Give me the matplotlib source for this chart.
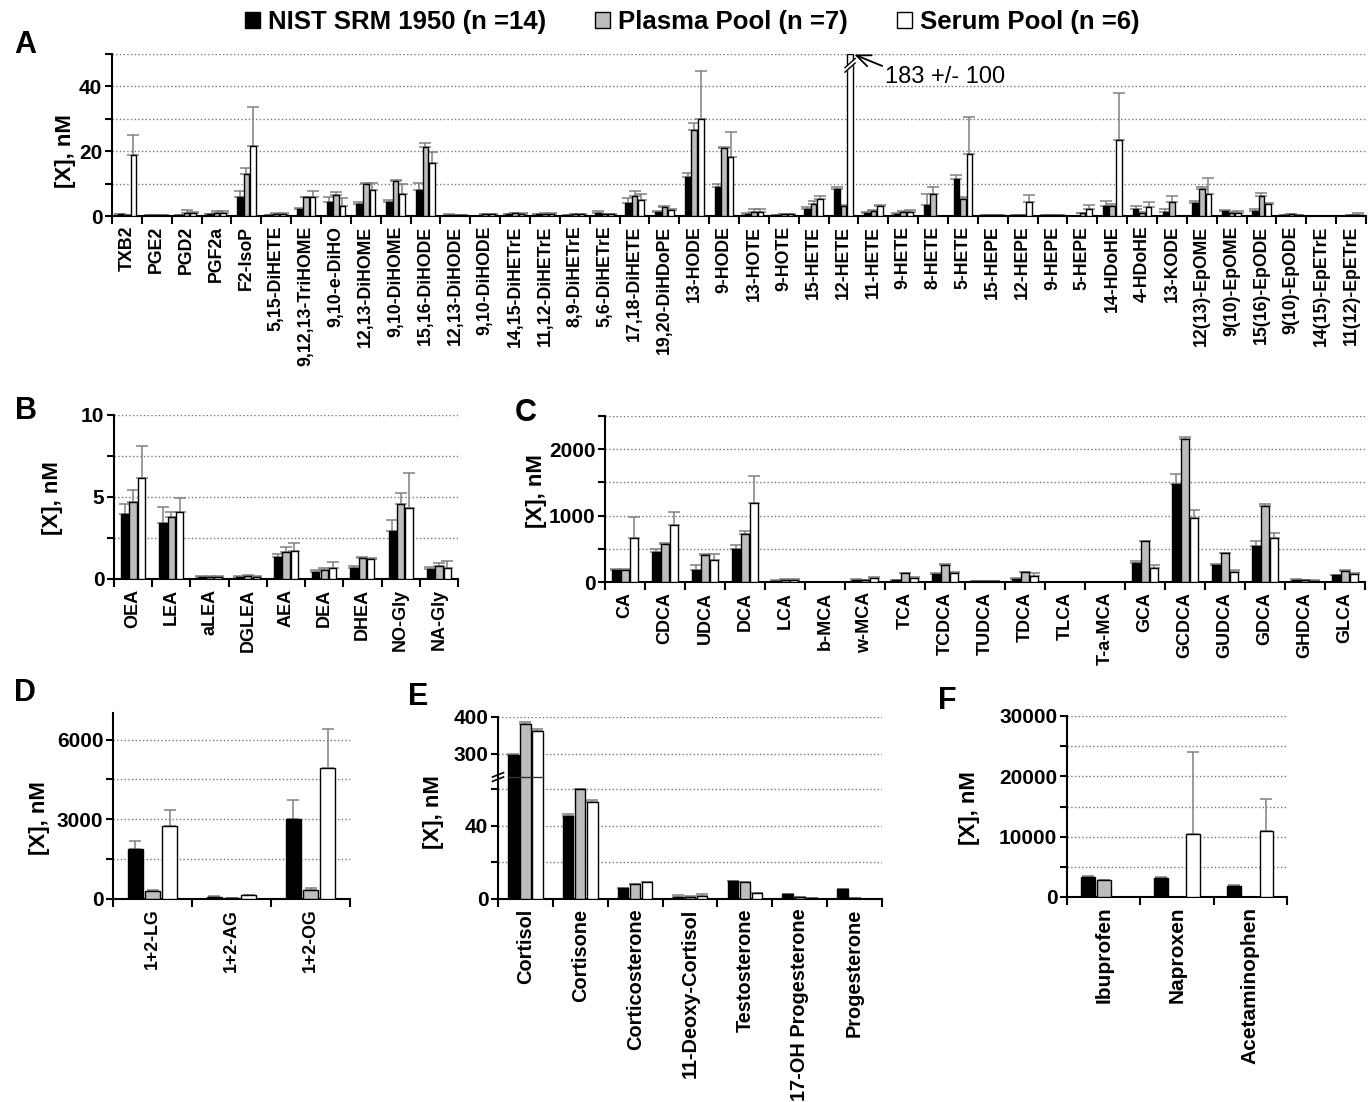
#!/usr/bin/env python3

import numpy as np
import matplotlib
matplotlib.use('Agg')
from matplotlib import pyplot as plt
from matplotlib.patches import Patch

W, H = 1368, 1102

series_labels = ['NIST SRM 1950 (n =14)', 'Plasma Pool (n =7)', 'Serum Pool (n =6)']
series_colors = ['#000000', '#bdbdbd', '#ffffff']

# A: oxylipins
a_names = ['TXB2', 'PGE2', 'PGD2', 'PGF2a', 'F2-IsoP', '5,15-DiHETE', '9,12,13-TriHOME',
           '9,10-e-DiHO', '12,13-DiHOME', '9,10-DiHOME', '15,16-DiHODE', '12,13-DiHODE',
           '9,10-DiHODE', '14,15-DiHETrE', '11,12-DiHETrE', '8,9-DiHETrE', '5,6-DiHETrE',
           '17,18-DiHETE', '19,20-DiHDoPE', '13-HODE', '9-HODE', '13-HOTE', '9-HOTE',
           '15-HETE', '12-HETE', '11-HETE', '9-HETE', '8-HETE', '5-HETE', '15-HEPE',
           '12-HEPE', '9-HEPE', '5-HEPE', '14-HDoHE', '4-HDoHE', '13-KODE', '12(13)-EpOME',
           '9(10)-EpOME', '15(16)-EpODE', '9(10)-EpODE', '14(15)-EpETrE', '11(12)-EpETrE']
a_nist = [0.5, 0.2, 0.3, 0.5, 5.8, 0.2, 2.3, 4.4, 3.8, 4.3, 7.9, 0.4, 0.1, 0.6, 0.6, 0.3, 1.0,
          4.0, 1.2, 12.1, 8.9, 0.6, 0.2, 2.3, 8.2, 1.0, 0.6, 3.5, 11.3, 0.2, 0.3, 0.2, 0.0,
          3.1, 2.3, 1.1, 3.9, 1.4, 1.4, 0.2, 0.1, 0.0]
a_nist_sd = [0.2, 0.0, 0.1, 0.2, 2.0, 0.1, 0.3, 1.5, 0.4, 0.6, 2.4, 0.1, 0.0, 0.1, 0.1, 0.1, 0.5,
             1.6, 0.3, 1.2, 0.9, 0.2, 0.1, 0.5, 0.8, 0.3, 0.2, 3.2, 1.5, 0.0, 0.1, 0.0, 0.0,
             1.5, 0.8, 1.1, 0.7, 0.4, 0.7, 0.1, 0.0, 0.0]
a_plasma = [0.3, 0.2, 1.0, 1.0, 13.0, 0.5, 5.8, 6.6, 9.8, 10.8, 21.4, 0.3, 0.6, 0.8, 0.7, 0.5,
            0.6, 6.1, 2.8, 26.4, 20.9, 1.3, 0.6, 3.6, 3.2, 1.6, 1.2, 6.9, 5.3, 0.2, 0.2, 0.2,
            0.8, 3.0, 0.9, 4.3, 8.2, 0.8, 6.3, 0.5, 0.1, 0.2]
a_plasma_sd = [0.1, 0.0, 0.8, 0.5, 1.8, 0.3, 0.1, 0.8, 0.5, 0.2, 1.1, 0.1, 0.1, 0.2, 0.1, 0.1,
               0.1, 1.7, 0.2, 2.2, 0.4, 0.9, 0.1, 0.9, 0.2, 0.3, 0.3, 2.1, 0.6, 0.0, 0.1, 0.0,
               0.2, 0.7, 0.2, 1.8, 0.8, 0.3, 0.8, 0.1, 0.0, 0.1]
a_serum = [18.7, 0.2, 0.8, 1.0, 21.7, 0.5, 5.8, 3.0, 8.0, 6.9, 16.5, 0.2, 0.5, 0.7, 0.7, 0.6,
           0.6, 4.8, 1.8, 30.0, 18.1, 1.3, 0.6, 5.1, 183, 3.0, 1.1, 0.0, 19.2, 0.2, 4.3, 0.2,
           2.1, 23.6, 2.7, 0.0, 6.7, 0.8, 3.7, 0.3, 0.1, 0.4]
a_serum_sd = [6.3, 0.1, 0.5, 0.5, 11.8, 0.3, 2.0, 2.5, 2.3, 3.1, 3.3, 0.1, 0.1, 0.2, 0.1, 0.1,
              0.1, 1.9, 0.3, 14.9, 7.7, 0.9, 0.1, 1.2, 100, 0.5, 0.6, 0.0, 11.4, 0.0, 2.3, 0.0,
              1.3, 14.4, 1.6, 0.0, 4.9, 0.8, 0.2, 0.1, 0.0, 0.4]

# B: endocannabinoids
b_names = ['OEA', 'LEA', 'aLEA', 'DGLEA', 'AEA', 'DEA', 'DHEA', 'NO-Gly', 'NA-Gly']
b_nist = [3.94, 3.4, 0.1, 0.12, 1.36, 0.4, 0.65, 2.95, 0.6]
b_nist_sd = [0.66, 1.0, 0.1, 0.08, 0.19, 0.15, 0.15, 0.65, 0.15]
b_plasma = [4.67, 3.76, 0.15, 0.2, 1.67, 0.55, 1.3, 4.55, 0.8]
b_plasma_sd = [0.73, 0.34, 0.05, 0.05, 0.3, 0.15, 0.05, 0.71, 0.15]
b_serum = [6.15, 4.07, 0.15, 0.15, 1.73, 0.65, 1.25, 4.35, 0.7]
b_serum_sd = [1.95, 0.89, 0.05, 0.05, 0.44, 0.4, 0.05, 2.09, 0.4]

# C: bile acids
c_names = ['CA', 'CDCA', 'UDCA', 'DCA', 'LCA', 'b-MCA', 'w-MCA', 'TCA', 'TCDCA', 'TUDCA',
           'TDCA', 'TLCA', 'T-a-MCA', 'GCA', 'GCDCA', 'GUDCA', 'GDCA', 'GHDCA', 'GLCA']
c_nist = [180, 455, 180, 490, 20, 0, 35, 25, 125, 10, 50, 5, 5, 285, 1480, 255, 535, 35, 100]
c_nist_sd = [20, 45, 75, 70, 5, 0, 5, 5, 5, 2, 5, 1, 1, 25, 150, 20, 75, 5, 10]
c_plasma = [185, 575, 400, 730, 35, 0, 30, 130, 260, 12, 150, 5, 5, 610, 2160, 435, 1145, 25, 165]
c_plasma_sd = [10, 15, 20, 40, 5, 0, 5, 5, 5, 2, 5, 1, 1, 5, 30, 5, 25, 3, 10]
c_serum = [670, 865, 330, 1190, 35, 0, 60, 65, 130, 8, 95, 5, 5, 215, 960, 155, 660, 20, 115]
c_serum_sd = [310, 190, 90, 400, 5, 0, 20, 5, 25, 2, 45, 1, 1, 40, 120, 20, 75, 3, 25]

# D: monoacylglycerols
d_names = ['1+2-LG', '1+2-AG', '1+2-OG']
d_nist = [1870, 90, 3000]
d_nist_sd = [300, 10, 730]
d_plasma = [300, 20, 350]
d_plasma_sd = [20, 0, 70]
d_serum = [2750, 150, 4920]
d_serum_sd = [610, 10, 1470]

# E: steroids
e_names = ['Cortisol', 'Cortisone', 'Corticosterone', '11-Deoxy-Cortisol', 'Testosterone',
           '17-OH Progesterone', 'Progesterone']
e_nist = [295, 45.5, 6.2, 1.0, 9.8, 2.5, 5.6]
e_nist_sd = [3, 1.0, 0, 1.0, 0.3, 0, 0]
e_plasma = [382, 60, 8, 1.0, 9.1, 1.2, 0.3]
e_plasma_sd = [5, 0.2, 0, 0.5, 0, 0, 0]
e_serum = [362, 52.9, 9.1, 1.5, 3.1, 0.3, 0]
e_serum_sd = [6, 1.2, 0, 1.0, 0, 0, 0]

# F: drugs
f_names = ['Ibuprofen', 'Naproxen', 'Acetaminophen']
f_nist = [3310, 3090, 1875]
f_nist_sd = [200, 200, 130]
f_plasma = [2870, 0, 0]
f_plasma_sd = [0, 0, 0]
f_serum = [0, 10420, 10860]
f_serum_sd = [0, 13620, 5350]

BAR_W = 0.19
SPACING = 0.22
NARROW = ['Liberation Sans Narrow', 'Liberation Sans', 'DejaVu Sans']
WIDE = ['Liberation Sans', 'DejaVu Sans']

plt.rcParams['font.family'] = NARROW
plt.rcParams['font.weight'] = 'bold'

E_LO, E_HI, E_RATIO = 66.7, 236.0, 0.2


def e_forward(v):
    v = np.asarray(v, float)
    return np.where(v <= E_LO, v, np.where(v < E_HI, E_LO, E_LO + (v - E_HI) * E_RATIO))


def e_inverse(y):
    y = np.asarray(y, float)
    return np.where(y <= E_LO, y, E_HI + (y - E_LO) / E_RATIO)


def px_axes(fig, left, top, right, bottom):
    return fig.add_axes([left / W, 1 - bottom / H, (right - left) / W, (bottom - top) / H])


def draw_panel(ax, names, series, sds, ymax, major, minor, label_px, label_y, box, xsize=12.8):
    n = len(names)
    x = np.arange(n) + 0.5
    positions = []
    for k in range(3):
        vals = np.asarray(series[k], float)
        sd = np.asarray(sds[k], float)
        pos = x + (k - 1) * SPACING
        positions.append(pos)
        ax.bar(pos, np.minimum(vals, ymax), width=BAR_W, color=series_colors[k],
               edgecolor='black', linewidth=1, zorder=3)
        keep = (vals <= ymax) & (vals > 0)
        ax.errorbar(pos[keep], vals[keep], yerr=[np.zeros(keep.sum()), sd[keep]], fmt='none',
                    ecolor='#808080', elinewidth=1.1, capsize=4, capthick=1.1, zorder=2)

    ax.set_xlim(0, n)
    ax.set_ylim(0, ymax)
    ax.set_xticks(x)
    ax.set_xticklabels(names, rotation=90, fontsize=xsize, fontfamily=WIDE, fontweight='bold')
    ax.set_xticks(np.arange(n + 1), minor=True)
    ax.tick_params(axis='x', which='major', length=0, pad=7)
    ax.tick_params(axis='x', which='minor', length=6, width=1.5, direction='out')
    ax.set_yticks(major)
    ax.set_yticks(minor, minor=True)
    ax.tick_params(axis='y', which='both', length=5, width=1.5, labelsize=15, pad=2)
    ax.yaxis.grid(True, which='both', linestyle=':', color='#777777', linewidth=1)
    ax.set_axisbelow(True)
    for s in ['top', 'right']:
        ax.spines[s].set_visible(False)
    for s in ['left', 'bottom']:
        ax.spines[s].set_linewidth(1.5)
    ax.set_ylabel('[X], nM', fontsize=16, fontfamily=WIDE, fontweight='bold')
    left, top, right, bottom = box
    ax.yaxis.set_label_coords((label_px - left) / (right - left), label_y)
    return positions


fig = plt.figure(figsize=(W / 100, H / 100), dpi=100)

# A
box_a = (112, 54, 1366, 216)
ax_a = px_axes(fig, *box_a)
A_MAX = 50
pos_a = draw_panel(ax_a, a_names, [a_nist, a_plasma, a_serum], [a_nist_sd, a_plasma_sd, a_serum_sd],
                   A_MAX, [0, 20, 40], [10, 30, 50], 76, 0.40, box_a)
for i, v in enumerate(a_serum):
    if v > A_MAX:
        xc = pos_a[2][i]
        ax_a.fill([xc - 0.14, xc + 0.14, xc + 0.14, xc - 0.14], [44.6, 47.0, 48.2, 45.8],
                  color='white', zorder=4, clip_on=False)
        ax_a.plot([xc - 0.17, xc + 0.17], [44.4, 47.2], color='black', lw=1, zorder=5, clip_on=False)
        ax_a.plot([xc - 0.17, xc + 0.17], [45.8, 48.6], color='black', lw=1, zorder=5, clip_on=False)
        ax_a.annotate('%.0f +/- %.0f' % (v, a_serum_sd[i]), xy=(xc + BAR_W / 2, A_MAX),
                      xytext=(i + 1.89, 42.9), ha='left', va='center', fontsize=17,
                      fontfamily=WIDE, fontweight='normal', annotation_clip=False,
                      arrowprops=dict(arrowstyle='->,head_length=0.6,head_width=0.25',
                                      color='black', lw=1.3,
                                      shrinkA=0, shrinkB=1, relpos=(0, 0.95)))

# B
box_b = (114, 415, 458, 579)
ax_b = px_axes(fig, *box_b)
draw_panel(ax_b, b_names, [b_nist, b_plasma, b_serum], [b_nist_sd, b_plasma_sd, b_serum_sd],
           10, [0, 5, 10], [2.5, 7.5], 63, 0.494, box_b, xsize=13)

# C
box_c = (605, 416, 1365, 582)
ax_c = px_axes(fig, *box_c)
draw_panel(ax_c, c_names, [c_nist, c_plasma, c_serum], [c_nist_sd, c_plasma_sd, c_serum_sd],
           2500, [0, 1000, 2000], [500, 1500, 2500], 547, 0.55, box_c, xsize=13)

# D
box_d = (113, 713, 350, 899)
ax_d = px_axes(fig, *box_d)
draw_panel(ax_d, d_names, [d_nist, d_plasma, d_serum], [d_nist_sd, d_plasma_sd, d_serum_sd],
           7000, [0, 3000, 6000], [1500, 4500], 50, 0.435, box_d, xsize=12.8)

# E (broken axis)
box_e = (498, 717, 882, 899)
ax_e = px_axes(fig, *box_e)
ax_e.set_yscale('function', functions=(e_forward, e_inverse))
pos_e = draw_panel(ax_e, e_names, [e_nist, e_plasma, e_serum], [e_nist_sd, e_plasma_sd, e_serum_sd],
                   400, [0, 40, 300, 400], [20, 60], 444, 0.478, box_e, xsize=14.4)
ax_e.yaxis.set_major_formatter(matplotlib.ticker.FormatStrFormatter('%d'))
for i in range(len(e_names)):
    if max(e_nist[i], e_plasma[i], e_serum[i]) > E_HI:
        ax_e.plot([pos_e[0][i] - BAR_W / 2, pos_e[2][i] + BAR_W / 2], [E_LO, E_LO],
                  color='#333333', lw=1, zorder=4)
yf = float(e_forward(E_LO) / e_forward(400))
dx, dy = 5.5 / 384, 2.2 / 182
for off in [-0.012, 0.012]:
    ax_e.plot([-dx, dx], [yf + off - dy, yf + off + dy], transform=ax_e.transAxes,
              color='black', lw=1.2, clip_on=False, zorder=6)

# F
box_f = (1067, 716, 1287, 897)
ax_f = px_axes(fig, *box_f)
draw_panel(ax_f, f_names, [f_nist, f_plasma, f_serum], [f_nist_sd, f_plasma_sd, f_serum_sd],
           30000, [0, 10000, 20000, 30000], [5000, 15000, 25000], 980, 0.49, box_f, xsize=15)

for letter, px, py in [('A', 14, 30), ('B', 15, 396), ('C', 515, 398), ('D', 14, 678),
                       ('E', 408, 682), ('F', 938, 686)]:
    fig.text(px / W, 1 - py / H, letter, fontsize=22, fontweight='bold', ha='left', va='top')

handles = [Patch(facecolor=c, edgecolor='black', linewidth=1) for c in series_colors]
fig.legend(handles, series_labels, loc='center', bbox_to_anchor=(692 / W, 1 - 22 / H),
           ncol=3, frameon=False, handlelength=0.6, handleheight=0.6, handletextpad=0.3,
           columnspacing=1.9, prop={'size': 18.5, 'weight': 'bold'})

plt.savefig('out.png', dpi=100)
